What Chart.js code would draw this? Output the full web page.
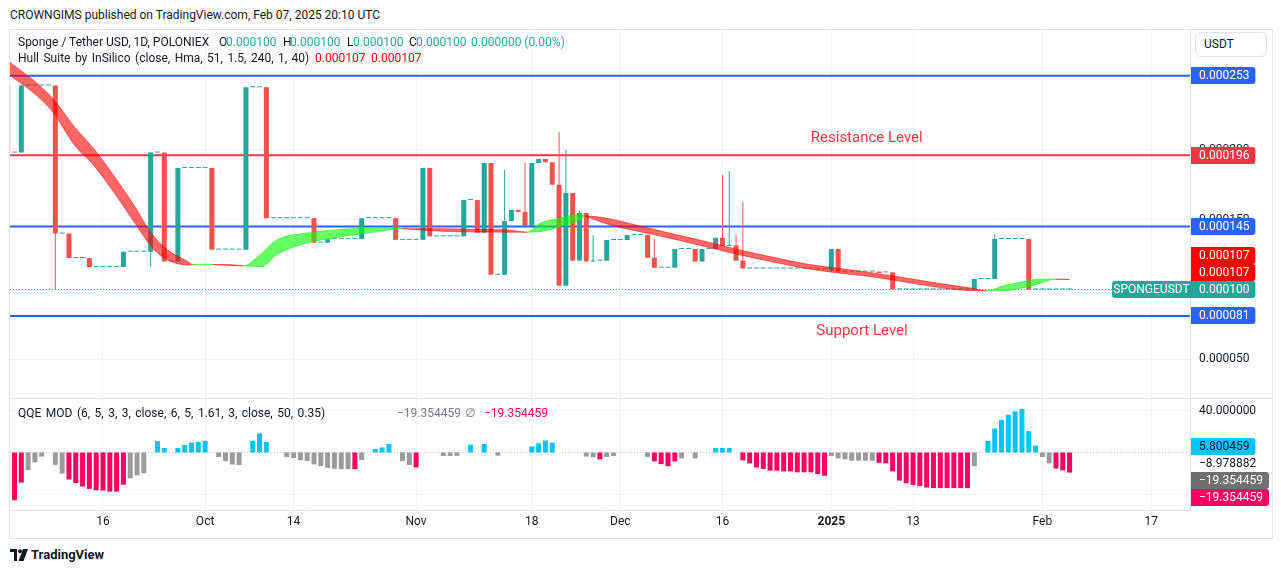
<!DOCTYPE html>
<html>
<head>
<meta charset="utf-8">
<title>Sponge / Tether USD, 1D, POLONIEX</title>
<script src="https://cdn.jsdelivr.net/npm/chart.js@4.4.1/dist/chart.umd.min.js"></script>
<style>
html, body { margin:0; padding:0; background:#fff; }
body { width:1281px; height:573px; position:relative; overflow:hidden; font-family: Roboto, "Open Sans", "DejaVu Sans", sans-serif; color:#131722; font-size:12px; }
.t { position:absolute; white-space:pre; line-height:14px; font-size:12px; }
.ws { word-spacing:1.5px; }
#frame { position:absolute; left:9px; top:29px; width:1264px; height:510px; border:1px solid #e0e3eb; box-sizing:border-box; }
canvas { position:absolute; }
.teal { color:#26a69a; }
.red { color:#ff0000; }
</style>
</head>
<body>
<div class="t" style="left:10px;top:8px">CROWNGIMS published on TradingView.com, Feb 07, 2025 20:10 UTC</div>
<div id="frame"></div>
<canvas id="mainChart" width="1262" height="368" style="left:10px;top:30px"></canvas>
<canvas id="qqeChart" width="1262" height="140" style="left:10px;top:398px"></canvas>
<div style="position:absolute;left:9px;top:398px;width:1264px;height:1px;background:#e0e3eb"></div>

<div class="t" style="left:18px;top:35px">Sponge / Tether USD, 1D, POLONIEX</div>
<div class="t" style="left:219px;top:35px">O</div><div class="t teal" id="lgO" style="left:226px;top:35px"></div>
<div class="t" style="left:283px;top:35px">H</div><div class="t teal" id="lgH" style="left:290px;top:35px"></div>
<div class="t" style="left:347px;top:35px">L</div><div class="t teal" id="lgL" style="left:353px;top:35px"></div>
<div class="t" style="left:409px;top:35px">C</div><div class="t teal" id="lgC" style="left:416px;top:35px"></div>
<div class="t teal" id="lgChg" style="left:471px;top:35px"></div>

<div class="t ws" style="left:18px;top:51px">Hull Suite by InSilico (close, Hma, 51, 1.5, 240, 1, 40)</div>
<div class="t red" id="lgHull1" style="left:315px;top:51px"></div>
<div class="t red" id="lgHull2" style="left:371px;top:51px"></div>

<div class="t ws" style="left:18px;top:406px">QQE MOD (6, 5, 3, 3, close, 6, 5, 1.61, 3, close, 50, 0.35)</div>
<div class="t" id="lgQ1" style="left:397px;top:406px;color:#787b86"></div>
<div class="t" style="left:465px;top:406px;color:#787b86">∅</div>
<div class="t" id="lgQ2" style="left:484px;top:406px;color:#ff0062"></div>

<div style="position:absolute;left:1195px;top:32px;width:72px;height:25px;border:1px solid #e0e3eb;border-radius:6px;box-sizing:border-box;background:#fff"></div>
<div class="t" style="left:1204px;top:37px">USDT</div>

<svg style="position:absolute;left:10px;top:549px" width="18" height="12" viewBox="0 0 18 12">
  <path d="M0 0h7v12H4V3H0z" fill="#131722"/><circle cx="10" cy="2.2" r="2" fill="#131722"/><path d="M13 0h5l-4.5 12H8.5z" fill="#131722"/>
</svg>
<div class="t" style="left:31px;top:548px;font-size:13px;font-weight:bold">TradingView</div>

<script>
// ---------------- DATA ----------------
// Day index: 0 = 16 Sep 2024, one candle per day. Prices in millionths of USDT (x 1e-6).
const FIRST_CANDLE_DAY = -14;
const PRICE_UNIT = 1e-6;

const openU = [
  246,198,198,246,246,246,246,246,140,140,
  122.5,122.5,122.5,116,116,116,116,116,127,127,
  127,127,198,198,120,120,187,187,187,187,
  187,128.5,128.5,128.5,128.5,128.5,244.7,244.7,244.7,151,
  151,151,151,151,151,151,133.5,133.5,136,136,
  136,136,136,151,151,151,151,151,135.5,135.5,
  135.5,135.5,187,138,138,138,138,138,164,164,
  140.6,190.5,110.5,110.5,149,157,155.5,145.4,190.5,193.4,
  191,175,102.7,169,120.6,154.7,120,120.6,120.6,135.4,
  135.4,135.4,139,139,139,122.7,115.6,115.6,115.6,129,
  129,129,120,129,129,137,131.1,131.5,120.6,115,
  115,115,115,115,115,115,115,115,115,115,
  114.4,113.5,129,112.8,112.8,112.8,112.8,112.8,112.8,112.2,
  112.2,100,100,100,100,100,100,100,100,100,
  100,100,100,107.5,107.5,107.5,136.1,136.1,136.1,136.1,
  136.1,100,100,100,100,100,100
];
const highU = [
  246,198,246,246,246,246,246,246,140,140,
  122.5,122.5,122.5,116,116,116,116,127,127,127,
  127,198,198,198,120,187,187,187,187,187,
  187,128.5,128.5,128.5,128.5,244.7,244.7,244.7,244.7,151,
  151,151,151,151,151,151,133.5,136,136,136,
  136,136,151,151,151,151,151,151,135.5,135.5,
  135.5,187,187,138,138,138,138,164,164,164,
  190.5,190.5,110.5,185.5,157,157,190.7,190.5,193.4,193.4,
  191,212.7,199.8,169,156.4,154.7,139,120.6,135.4,135.4,
  135.4,139,139,139,139,136.1,115.6,115.6,129,129,
  129,129,129,129,137,181.9,184.8,139,162.8,115,
  115,115,115,115,115,115,115,115,115,115,
  114.4,129,129,112.8,112.8,112.8,112.8,112.8,112.8,112.2,
  112.2,100,100,100,100,100,100,100,100,100,
  100,100,107.5,107.5,107.5,139.5,136.1,136.1,136.1,136.1,
  136.1,100,100,100,100,100,100
];
const lowU = [
  198,198,198,246,246,246,246,100,140,122.5,
  122.5,122.5,116,116,116,116,116,116,127,127,
  127,116,198,120,120,120,187,187,187,187,
  128.5,128.5,128.5,128.5,128.5,128.5,244.7,244.7,151,151,
  151,151,151,151,151,133.5,133.5,133.5,136,136,
  136,136,136,151,151,151,151,135.5,135.5,135.5,
  135.5,135.5,138,138,138,138,138,138,164,140.6,
  140.6,110.5,110.5,110.5,149,155.5,145.4,145.4,190.5,191,
  175,102.7,102.7,120.6,120.6,120,120,120.6,120.6,135.4,
  135.4,135.4,139,139,122.7,115.6,115.6,115.6,115.6,129,
  129,120,120,129,129,131.1,131.1,120.6,115,115,
  115,115,115,115,115,115,115,115,115,114.4,
  114.4,113.5,112.8,112.8,112.8,112.8,112.8,112.8,111.8,112.2,
  100,100,100,100,100,100,100,100,100,100,
  100,100,100,107.5,107.5,107.5,136.1,136.1,136.1,136.1,
  100,100,100,100,100,100,100
];
const closeU = [
  198,198,246,246,246,246,246,140,140,122.5,
  122.5,122.5,116,116,116,116,116,127,127,127,
  127,198,198,120,120,187,187,187,187,187,
  128.5,128.5,128.5,128.5,128.5,244.7,244.7,244.7,151,151,
  151,151,151,151,151,133.5,133.5,136,136,136,
  136,136,151,151,151,151,151,135.5,135.5,135.5,
  135.5,187,138,138,138,138,138,164,164,140.6,
  190.5,110.5,110.5,149,157,155.5,145.4,190.5,193.4,191,
  175,102.7,169,120.6,154.7,120,120.6,120.6,135.4,135.4,
  135.4,139,139,139,122.7,115.6,115.6,115.6,129,129,
  129,120,129,129,137,131.1,131.5,120.6,115,115,
  115,115,115,115,115,115,115,115,115,114.4,
  114.4,129,112.8,112.8,112.8,112.8,112.8,112.8,111.8,112.2,
  100,100,100,100,100,100,100,100,100,100,
  100,100,107.5,107.5,107.5,136.1,136.1,136.1,136.1,136.1,
  100,100,100,100,100,100,100
];

// Horizontal drawn levels (resistance / support lines)
const levelPricesU = [253, 196, 145, 81];
const levelKinds = ['line', 'resistance', 'line', 'support'];

// Hull Suite band: main hull and 2-bar shifted hull, read at these days
const hullDays   = [-14.5, -7.6, -4.2, -1.2, 1.7, 4.7, 7.1, 9.5, 12.5, 13.2, 14.6, 16.2, 18.5, 20.6, 23.3, 25.5, 30.2, 35.1, 40, 43.9, 49.8, 54.6, 59.5, 62.3, 64.2, 67.1, 70.1, 70.8, 74, 78.9, 83.8, 88.7, 93.6, 98.5, 103.4, 108, 112.9, 117.8, 122.7, 127.6, 129.8, 132.5, 135, 137.4, 139.9, 142];
const hullMainU  = [256.5, 228.4, 203.4, 187.9, 168.8, 147.3, 130.6, 121.1, 117.5, 117.8, 118.1, 117.8, 117.2, 116.9, 125.9, 135.4, 140.6, 143, 144.5, 143.5, 141.6, 141.1, 141, 141, 147.3, 150.9, 153.8, 152.5, 146.9, 141.3, 136.1, 130.4, 124.7, 119.6, 114.9, 111.8, 109.1, 105.3, 101.5, 99.1, 99, 103, 105.3, 107.3, 107.4, 107];
const hullShiftU = [266, 238, 216.5, 199.8, 180.7, 159.2, 140.2, 128.2, 119.9, 117.8, 117.6, 117.8, 117.8, 116.9, 116.3, 124.8, 133.5, 137.8, 141.1, 143.5, 143.5, 143, 142.5, 141, 141.3, 144.9, 149.7, 152.5, 151, 145.4, 139.7, 134.2, 128.2, 123, 118.2, 115.1, 112, 108.4, 104.4, 101, 99, 99.1, 101, 103.9, 107.4, 107.2];

// QQE MOD histogram, one value per day starting at day -13 (null = no visible bar)
const QQE_FIRST_DAY = -13;
const qqeValues = [
  -46, -29, -17, -9.5, -4, null, -12, -20.3, -26, -29.5,
  -32.8, -35, -36.4, -36.7, -37.7, -37.7, -31, -25, -22, -20,
  null, 11, 4.3, null, 4.3, 7.2, 9.5, 10.2, 11.2, null,
  -4.3, -8.2, -11.5, -12.1, null, 11.2, 18.4, 10.2, null, null,
  -4.3, -5.2, -7.5, -8.2, -11.5, -13.1, -14.8, -15.7, -16.1, -16.1,
  -16.1, -7.2, null, 3.3, 4.9, 8.2, null, -8.2, -12.1, -14.4,
  null, null, null, -3.3, -3.3, -3.3, null, 7.5, null, 8.2,
  null, -3, null, null, null, null, 5.9, 8.9, 11.5, 9.5,
  null, null, null, null, -3.9, -4.6, -6.6, -4.3, -3.3, null,
  null, null, null, -4.3, -8.6, -11.2, -13.2, -8.6, -5.6, null,
  -5.6, null, null, 4.3, 4.3, 4.3, null, -7.6, -10.5, -14.5,
  -15.8, -17.5, -17.5, -18.2, -18.2, -19.1, -19.1, -19.1, -20.8, -22.4,
  -3.3, -5.6, -6.6, -7.9, -7.9, -7.9, -7.9, -9.9, -10.5, -18.2,
  -27, -29.7, -31.4, -32.3, -33.7, -34.3, -34.3, -34.3, -34.3, -34.3,
  -34.3, -13.2, null, 11.2, 23.1, 31.4, 36.3, 39.6, 41.9, 20.5,
  6.6, -4.3, -10.5, -15.5, -17.2, -19.354459
];
// u = above upper threshold, d = below lower threshold, n = neutral, - = none
const qqeState = (
  'ddnnn-nndd' + 'dddddddnnn' + '-uu-uuuuu-' + 'nnnn-uuu--' + 'nnnnnnnnnn' +
  'dn-uuu-nnd' + '---nnn-u-u' + '-n----uuuu' + '----nndnn-' + '---nddddn-' +
  'n--uuu-ddd' + 'dddddddddd' + 'nnnnnnnddd' + 'dddddddddd' + 'dn-uuuuuuu' +
  'unnddd').split('');
const qqeOtherLast = [5.800459, -8.978882];

// Axis ticks
const timeTickDays   = [0, 15, 28, 46, 63, 76, 91, 107, 119, 138, 154];
const timeTickLabels = ['16', 'Oct', '14', 'Nov', '18', 'Dec', '16', '2025', '13', 'Feb', '17'];
const priceTicksU = [50, 100, 150, 200, 250];
const qqeTicks = [-40, 40];

// ---------------- STYLE / VIEW ----------------
const UP = '#26a69a', DOWN = '#ef5350', BLUE = '#2962ff', RES = '#f23645';
const BAND_UP = 'rgba(0,255,0,0.6)', BAND_DN = 'rgba(255,0,0,0.6)';
const LINE_UP = 'rgba(0,255,0,0.5)', LINE_DN = 'rgba(255,0,0,0.5)';
const Q_UP = '#00c3ff', Q_DN = '#ff0062', Q_N = 'rgba(112,112,112,0.7)';
const X_MIN = -13.662, X_MAX = 159.688;
const Y_MIN = 22.3, Y_MAX = 285.7;
const Q_MIN = -55.4, Q_MAX = 52.5;
const FONT = 'Roboto, "Open Sans", sans-serif';
const notes = [
  {text: 'Resistance Level', day: 112.2, priceU: 208.4},
  {text: 'Support Level', day: 111.5, priceU: 70.3}
];

Chart.defaults.font.family = FONT;
Chart.defaults.font.size = 12;
Chart.defaults.color = '#131722';

const fmtPrice = v => (v * PRICE_UNIT).toFixed(6);
const fmtQ = v => (v < 0 ? '\u2212' : '') + Math.abs(v).toFixed(6);

const days = openU.map((_, i) => FIRST_CANDLE_DAY + i);
const candleColors = closeU.map((c, i) => c >= openU[i] ? UP : DOWN);
const lastI = closeU.length - 1;

// legend values
document.getElementById('lgO').textContent = fmtPrice(openU[lastI]);
document.getElementById('lgH').textContent = fmtPrice(highU[lastI]);
document.getElementById('lgL').textContent = fmtPrice(lowU[lastI]);
document.getElementById('lgC').textContent = fmtPrice(closeU[lastI]);
const chg = closeU[lastI] - closeU[lastI - 1];
document.getElementById('lgChg').textContent = fmtPrice(chg) + ' (' + (chg / closeU[lastI - 1] * 100).toFixed(2) + '%)';
document.getElementById('lgHull1').textContent = fmtPrice(hullMainU[hullMainU.length - 1]);
document.getElementById('lgHull2').textContent = fmtPrice(hullShiftU[hullShiftU.length - 1]);
const qLast = qqeValues[qqeValues.length - 1];
document.getElementById('lgQ1').textContent = fmtQ(qLast);
document.getElementById('lgQ2').textContent = fmtQ(qLast);

function hullUp(i0, i1) {
  return hullMainU[i0] + hullMainU[i1] >= hullShiftU[i0] + hullShiftU[i1];
}

function drawAxisLabels(chart, items, anchor) {
  const ctx = chart.ctx, ys = chart.scales.y;
  const H = 17;
  const pos = items.map(it => ys.getPixelForValue(it.v));
  for (let i = anchor - 1; i >= 0; i--) pos[i] = Math.min(pos[i], pos[i + 1] - H);
  for (let i = anchor + 1; i < items.length; i++) pos[i] = Math.max(pos[i], pos[i - 1] + H);
  ctx.save();
  ctx.font = '12px ' + FONT;
  ctx.textBaseline = 'middle';
  ctx.textAlign = 'left';
  items.forEach((it, i) => {
    const w = ctx.measureText(it.text).width;
    const top = Math.round(pos[i] - H / 2);
    if (it.bg) {
      ctx.fillStyle = it.bg;
      ctx.beginPath();
      ctx.roundRect(ys.left + 1, top, w + 14, H, [0, 3, 3, 0]);
      ctx.fill();
    }
    if (it.tag) {
      const tw = 79;
      ctx.fillStyle = it.bg;
      ctx.beginPath();
      ctx.roundRect(ys.left + 1 - tw, top, tw, H, [3, 0, 0, 3]);
      ctx.fill();
      ctx.fillStyle = it.fg;
      ctx.textAlign = 'center';
      ctx.fillText(it.tag, ys.left + 1 - tw / 2, top + H / 2 + 0.5);
      ctx.textAlign = 'left';
    }
    ctx.fillStyle = it.fg;
    ctx.fillText(it.text, ys.left + 9, top + H / 2 + 0.5);
  });
  ctx.restore();
}

const mainDecor = {
  id: 'mainDecor',
  beforeDatasetsDraw(chart) {
    const {ctx, chartArea: a, scales: {y}} = chart;
    ctx.save();
    levelPricesU.forEach((p, i) => {
      const py = y.getPixelForValue(p);
      ctx.strokeStyle = levelKinds[i] === 'resistance' ? RES : BLUE;
      ctx.lineWidth = 2;
      ctx.beginPath(); ctx.moveTo(a.left, py); ctx.lineTo(a.right, py); ctx.stroke();
    });
    const lp = Math.round(y.getPixelForValue(closeU[lastI])) + 0.5;
    ctx.setLineDash([1, 2]);
    ctx.strokeStyle = UP; ctx.lineWidth = 1;
    ctx.beginPath(); ctx.moveTo(a.left, lp); ctx.lineTo(a.right, lp); ctx.stroke();
    ctx.restore();
  },
  afterDatasetsDraw(chart) {
    const {ctx, scales: {x, y}} = chart;
    ctx.save();
    ctx.font = '15px ' + FONT;
    ctx.fillStyle = RES;
    ctx.textAlign = 'center';
    ctx.textBaseline = 'middle';
    notes.forEach(n => ctx.fillText(n.text, x.getPixelForValue(n.day), y.getPixelForValue(n.priceU)));
    ctx.restore();
  },
  afterDraw(chart) {
    const hm = hullMainU[hullMainU.length - 1], hs = hullShiftU[hullShiftU.length - 1];
    const items = [
      {v: levelPricesU[0], text: fmtPrice(levelPricesU[0]), bg: BLUE, fg: '#fff'},
      {v: levelPricesU[1], text: fmtPrice(levelPricesU[1]), bg: RES, fg: '#fff'},
      {v: levelPricesU[2], text: fmtPrice(levelPricesU[2]), bg: BLUE, fg: '#fff'},
      {v: hm, text: fmtPrice(hm), bg: '#ff0000', fg: '#fff'},
      {v: hs, text: fmtPrice(hs), bg: '#ff0000', fg: '#fff'},
      {v: closeU[lastI], text: fmtPrice(closeU[lastI]), bg: UP, fg: '#fff', tag: 'SPONGEUSDT'},
      {v: levelPricesU[3], text: fmtPrice(levelPricesU[3]), bg: BLUE, fg: '#fff'}
    ];
    drawAxisLabels(chart, items, 5);
  }
};

const qqeDecor = {
  id: 'qqeDecor',
  beforeDatasetsDraw(chart) {
    const {ctx, chartArea: a, scales: {y}} = chart;
    const py = Math.round(y.getPixelForValue(0)) + 0.5;
    ctx.save();
    ctx.setLineDash([1, 2]);
    ctx.strokeStyle = 'rgba(120,123,134,0.45)';
    ctx.lineWidth = 1;
    ctx.beginPath(); ctx.moveTo(a.left, py); ctx.lineTo(a.right, py); ctx.stroke();
    ctx.restore();
  },
  afterDraw(chart) {
    const items = [
      {v: qqeOtherLast[0], text: fmtQ(qqeOtherLast[0]), bg: Q_UP, fg: '#131722'},
      {v: qqeOtherLast[1], text: fmtQ(qqeOtherLast[1]), bg: null, fg: '#131722'},
      {v: qLast, text: fmtQ(qLast), bg: '#707070', fg: '#fff'},
      {v: qLast, text: fmtQ(qLast), bg: Q_DN, fg: '#fff'}
    ];
    drawAxisLabels(chart, items, 0);
  }
};

const noPadX = s => { s.paddingLeft = 0; s.paddingRight = 0; };
const noPadY = s => { s.width = 82; s.paddingTop = 0; s.paddingBottom = 0; };

const xCommon = {
  type: 'linear', min: X_MIN, max: X_MAX, offset: false,
  afterBuildTicks: s => { s.ticks = timeTickDays.map(v => ({value: v})); },
  grid: {color: '#f0f3fa', drawTicks: false, offset: false}
};

new Chart(document.getElementById('mainChart'), {
  type: 'bar',
  data: {
    datasets: [
      {
        type: 'line', label: 'Hull', order: 0,
        data: hullDays.map((d, i) => ({x: d, y: hullMainU[i]})),
        fill: '+1', borderWidth: 1, pointRadius: 0, cubicInterpolationMode: 'monotone',
        segment: {
          borderColor: c => hullUp(c.p0DataIndex, c.p1DataIndex) ? LINE_UP : LINE_DN,
          backgroundColor: c => hullUp(c.p0DataIndex, c.p1DataIndex) ? BAND_UP : BAND_DN
        }
      },
      {
        type: 'line', label: 'Hull shifted', order: 0,
        data: hullDays.map((d, i) => ({x: d, y: hullShiftU[i]})),
        fill: false, borderWidth: 1, pointRadius: 0, cubicInterpolationMode: 'monotone',
        segment: {
          borderColor: c => hullUp(c.p0DataIndex, c.p1DataIndex) ? LINE_UP : LINE_DN
        }
      },
      {
        label: 'Body', order: 1,
        data: days.map((d, i) => ({x: d, y: [openU[i], closeU[i]]})),
        backgroundColor: candleColors, barThickness: 5, minBarLength: 1,
        grouped: false, inflateAmount: 0, borderWidth: 0
      },
      {
        label: 'Wick', order: 2,
        data: days.map((d, i) => ({x: d, y: [lowU[i], highU[i]]})),
        backgroundColor: candleColors, barThickness: 1,
        grouped: false, inflateAmount: 0, borderWidth: 0
      }
    ]
  },
  options: {
    responsive: false, animation: false, events: [],
    layout: {padding: 0},
    plugins: {legend: {display: false}, tooltip: {enabled: false}},
    scales: {
      x: Object.assign({}, xCommon, {
        afterFit: s => { s.height = 0; noPadX(s); },
        ticks: {display: false},
        border: {display: false}
      }),
      y: {
        type: 'linear', position: 'right', min: Y_MIN, max: Y_MAX,
        afterFit: noPadY,
        afterBuildTicks: s => { s.ticks = priceTicksU.map(v => ({value: v})); },
        ticks: {callback: v => fmtPrice(v), padding: 9, color: '#131722', font: {size: 12}},
        grid: {color: '#f0f3fa', drawTicks: false},
        border: {display: true, color: '#e0e3eb'}
      }
    }
  },
  plugins: [mainDecor]
});

const qqePoints = [], qqeColors = [];
qqeValues.forEach((v, i) => {
  if (v === null) return;
  qqePoints.push({x: QQE_FIRST_DAY + i, y: v});
  const s = qqeState[i];
  qqeColors.push(s === 'u' ? Q_UP : s === 'd' ? Q_DN : Q_N);
});

new Chart(document.getElementById('qqeChart'), {
  type: 'bar',
  data: {
    datasets: [{
      label: 'QQE MOD', data: qqePoints, backgroundColor: qqeColors,
      barThickness: 5, grouped: false, inflateAmount: 0, borderWidth: 0
    }]
  },
  options: {
    responsive: false, animation: false, events: [],
    layout: {padding: 0},
    plugins: {legend: {display: false}, tooltip: {enabled: false}},
    scales: {
      x: Object.assign({}, xCommon, {
        afterFit: s => { s.height = 28; noPadX(s); },
        ticks: {
          autoSkip: false, maxRotation: 0, padding: 5, color: '#131722',
          callback: v => timeTickLabels[timeTickDays.indexOf(v)],
          font: c => ({size: 12, weight: (c.tick && c.tick.label === '2025') ? 'bold' : 'normal'})
        },
        border: {display: true, color: '#e0e3eb'}
      }),
      y: {
        type: 'linear', position: 'right', min: Q_MIN, max: Q_MAX,
        afterFit: noPadY,
        afterBuildTicks: s => { s.ticks = qqeTicks.map(v => ({value: v})); },
        ticks: {callback: v => fmtQ(v), padding: 9, color: '#131722', font: {size: 12}},
        grid: {color: '#f0f3fa', drawTicks: false},
        border: {display: true, color: '#e0e3eb'}
      }
    }
  },
  plugins: [qqeDecor]
});
</script>
</body>
</html>
